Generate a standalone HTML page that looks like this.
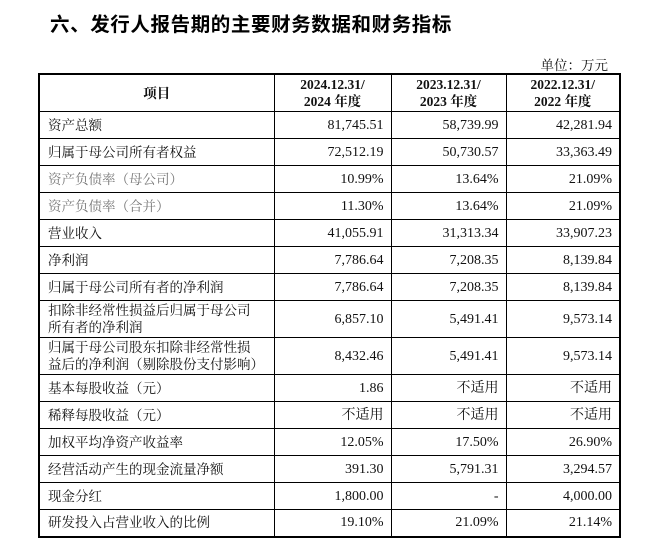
<!DOCTYPE html>
<html><head><meta charset="utf-8"><style>
body{margin:0;width:648px;height:541px;background:#fff;position:relative;overflow:hidden;font-family:"Liberation Serif","Noto Serif CJK SC",serif;color:#111}
.title{position:absolute;left:50px;top:8px;font-family:"Liberation Sans","Noto Sans CJK SC",sans-serif;font-weight:bold;font-size:19.5px;letter-spacing:0.6px;color:#000}
.unit{position:absolute;right:40px;top:54px;font-size:13.5px}
table{position:absolute;left:38px;top:73px;width:581px;border-collapse:collapse;table-layout:fixed;border:2px solid #000}
td{border:1px solid #000;font-size:13.5px;padding:0 7px 0 8px;line-height:17px;overflow:hidden;white-space:nowrap}
td.n{text-align:right;font-size:14px}
th{border:1px solid #000;font-size:13.5px;font-weight:bold;line-height:17px;text-align:center}
.g{color:#777}
</style></head><body>
<div class="title">六、发行人报告期的主要财务数据和财务指标</div>
<div class="unit">单位：万元</div>
<table>
<colgroup><col style="width:235px"><col style="width:117px"><col style="width:115px"><col style="width:114px"></colgroup>
<tr style="height:33px"><th>项目</th><th>2024.12.31/<br>2024 年度</th><th>2023.12.31/<br>2023 年度</th><th>2022.12.31/<br>2022 年度</th></tr>
<tr style="height:27px"><td>资产总额</td><td class="n">81,745.51</td><td class="n">58,739.99</td><td class="n">42,281.94</td></tr>
<tr style="height:27px"><td>归属于母公司所有者权益</td><td class="n">72,512.19</td><td class="n">50,730.57</td><td class="n">33,363.49</td></tr>
<tr style="height:27px"><td class="g">资产负债率（母公司）</td><td class="n">10.99%</td><td class="n">13.64%</td><td class="n">21.09%</td></tr>
<tr style="height:27px"><td class="g">资产负债率（合并）</td><td class="n">11.30%</td><td class="n">13.64%</td><td class="n">21.09%</td></tr>
<tr style="height:27px"><td>营业收入</td><td class="n">41,055.91</td><td class="n">31,313.34</td><td class="n">33,907.23</td></tr>
<tr style="height:27px"><td>净利润</td><td class="n">7,786.64</td><td class="n">7,208.35</td><td class="n">8,139.84</td></tr>
<tr style="height:27px"><td>归属于母公司所有者的净利润</td><td class="n">7,786.64</td><td class="n">7,208.35</td><td class="n">8,139.84</td></tr>
<tr style="height:37px"><td>扣除非经常性损益后归属于母公司<br>所有者的净利润</td><td class="n">6,857.10</td><td class="n">5,491.41</td><td class="n">9,573.14</td></tr>
<tr style="height:37px"><td>归属于母公司股东扣除非经常性损<br>益后的净利润（剔除股份支付影响）</td><td class="n">8,432.46</td><td class="n">5,491.41</td><td class="n">9,573.14</td></tr>
<tr style="height:27px"><td>基本每股收益（元）</td><td class="n">1.86</td><td class="n">不适用</td><td class="n">不适用</td></tr>
<tr style="height:27px"><td>稀释每股收益（元）</td><td class="n">不适用</td><td class="n">不适用</td><td class="n">不适用</td></tr>
<tr style="height:27px"><td>加权平均净资产收益率</td><td class="n">12.05%</td><td class="n">17.50%</td><td class="n">26.90%</td></tr>
<tr style="height:27px"><td>经营活动产生的现金流量净额</td><td class="n">391.30</td><td class="n">5,791.31</td><td class="n">3,294.57</td></tr>
<tr style="height:27px"><td>现金分红</td><td class="n">1,800.00</td><td class="n">-</td><td class="n">4,000.00</td></tr>
<tr style="height:27px"><td>研发投入占营业收入的比例</td><td class="n">19.10%</td><td class="n">21.09%</td><td class="n">21.14%</td></tr>
</table>
</body></html>
